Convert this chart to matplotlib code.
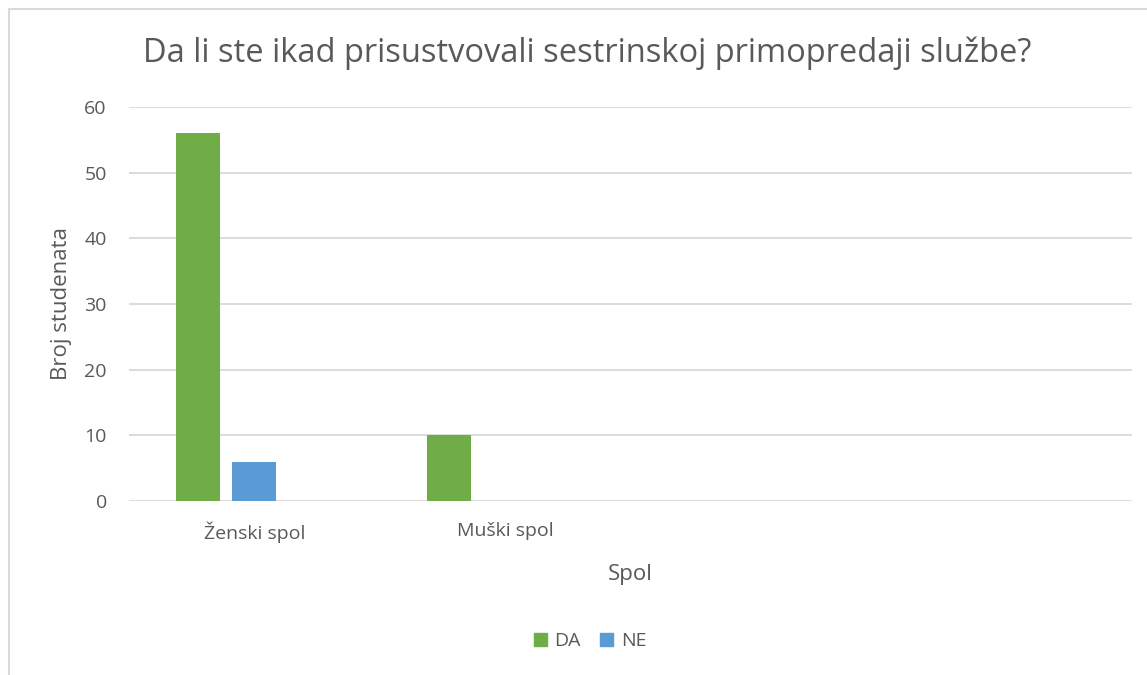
import numpy as np
import matplotlib
matplotlib.use('Agg')
from matplotlib import pyplot as plt
from matplotlib.lines import Line2D
from matplotlib.patches import Patch

# Podaci
categories = ['Ženski spol', 'Muški spol', '', '']
da_values = [56, 10, 0, 0]
ne_values = [6, 0, 0, 0]
series_names = ['DA', 'NE']
y_ticks = [0, 10, 20, 30, 40, 50, 60]

plt.rcParams['font.family'] = ['Open Sans', 'DejaVu Sans']
text_color = '#595959'
green = '#70ad47'
blue = '#5b9bd5'
grid_color = '#d9d9d9'

fig = plt.figure(figsize=(11.47, 6.75), dpi=100)
ax = fig.add_axes([129 / 1147, 174 / 675, 1003 / 1147, 394 / 675])

x = np.arange(len(categories))
width = 0.175
step = 0.2234
# treca (prazna) serija zauzima mjesto na +step
da = np.array(da_values, dtype=float)
ne = np.array(ne_values, dtype=float)
ax.bar(x - step, np.where(da > 0, da, np.nan), width, color=green, zorder=3)
ax.bar(x, np.where(ne > 0, ne, np.nan), width, color=blue, zorder=3)

ax.set_xlim(-0.5, len(categories) - 0.5)
ax.set_ylim(0, 60)
ax.set_yticks(y_ticks)
ax.yaxis.grid(True, color=grid_color, linewidth=1.3, zorder=0)
ax.set_axisbelow(True)
for s in ax.spines.values():
    s.set_visible(False)
ax.tick_params(axis='both', length=0, colors=text_color, labelsize=14)
ax.tick_params(axis='y', pad=16)
ax.tick_params(axis='x', pad=15)
ax.set_xticks(x)
ax.set_xticklabels(categories)

ax.set_ylabel('Broj studenata', color=text_color, fontsize=16, labelpad=9)
ax.set_xlabel('Spol', color=text_color, fontsize=16, labelpad=15)

fig.text(587 / 1147, 1 - 53 / 675, 'Da li ste ikad prisustvovali sestrinskoj primopredaji službe?',
         ha='center', va='center', color=text_color, fontsize=23.5)

handles = [Patch(color=green), Patch(color=blue)]
fig.legend(handles, series_names, loc='center', bbox_to_anchor=(590 / 1147, 1 - 641 / 675),
           ncol=2, frameon=False, fontsize=14, labelcolor=text_color,
           handlelength=0.65, handleheight=0.65, handletextpad=0.4, columnspacing=1.0)

# okvir grafikona
fig.add_artist(Line2D([8.5 / 1147, 1], [1 - 8.5 / 675, 1 - 8.5 / 675], color='#d9d9d9', lw=1.5))
fig.add_artist(Line2D([8.5 / 1147, 8.5 / 1147], [0, 1 - 8.5 / 675], color='#d9d9d9', lw=1.5))

fig.savefig('out.png', dpi=100)
